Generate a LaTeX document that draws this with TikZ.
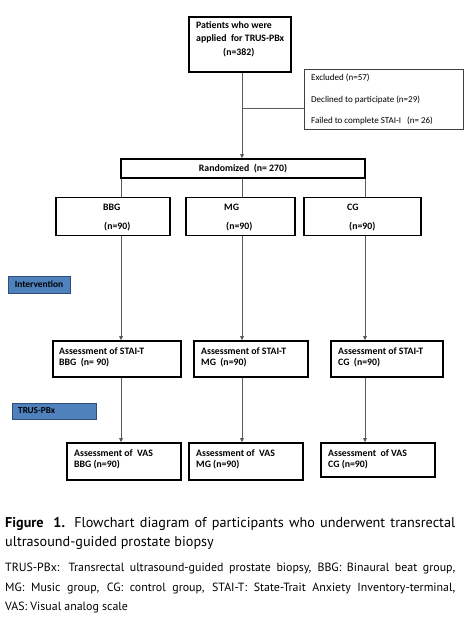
\documentclass[tikz,border=0pt]{standalone}
\usepackage{fontspec}
\setmainfont{Carlito}
\newfontfamily\capfont{PT Sans}
\usetikzlibrary{arrows.meta}
\definecolor{lblfill}{HTML}{4F81BD}
\definecolor{lbldraw}{HTML}{2F4F7A}
\definecolor{linegrey}{HTML}{5A5A5A}
\tikzset{
  box/.style={draw=black, line width=1.6pt, rectangle, inner sep=0pt},
  thinbox/.style={draw=black!75, line width=0.8pt, rectangle, inner sep=0pt},
  lbl/.style={draw=lbldraw, line width=0.8pt, fill=lblfill, rectangle, inner sep=0pt},
  txt/.style={anchor=west, inner sep=0pt, font=\fontsize{9.8}{11}\selectfont\bfseries},
  rtxt/.style={anchor=west, inner sep=0pt, font=\fontsize{9}{10}\selectfont},
  conn/.style={draw=linegrey, line width=0.9pt},
  arr/.style={conn, -{Triangle[length=4pt,width=3.5pt,fill=black]}},
}
\begin{document}
\begin{tikzpicture}[x=1pt,y=-1pt]
\useasboundingbox (0,0) rectangle (474,624);
% boxes
\node[box, minimum width=102pt, minimum height=55pt] (top) at (240,44.5) {};
\node[thinbox, minimum width=159pt, minimum height=60pt] (excl) at (383.5,99) {};
\node[box, minimum width=244pt, minimum height=19pt] (rand) at (243,168.5) {};
\node[box, minimum width=114pt, minimum height=38pt] (bbg) at (113,216.5) {};
\node[box, minimum width=109pt, minimum height=38pt] (mg) at (240.5,216.5) {};
\node[box, minimum width=117pt, minimum height=38pt] (cg) at (362.5,216.5) {};
\node[box, minimum width=128pt, minimum height=36pt] (s1) at (117,359) {};
\node[box, minimum width=114pt, minimum height=36pt] (s2) at (251,359) {};
\node[box, minimum width=112pt, minimum height=36pt] (s3) at (387,359) {};
\node[box, minimum width=114pt, minimum height=37pt] (v1) at (124,461.5) {};
\node[box, minimum width=114pt, minimum height=37pt] (v2) at (246,461.5) {};
\node[box, minimum width=114pt, minimum height=34pt] (v3) at (378,460) {};
% side labels
\node[lbl, minimum width=62pt, minimum height=17pt, font=\fontsize{9.4}{10}\selectfont\bfseries] (interv) at (39,284.5) {Intervention};
\node[lbl, minimum width=84pt, minimum height=16pt] (trus) at (54,411) {};
\node[txt, font=\fontsize{9.2}{10}\selectfont\bfseries] (trust) at (18,411) {TRUS-PBx};
% texts
\node[txt] (t1) at (196,25) {Patients who were};
\node[txt] (t2) at (196,39) {applied\ \ for TRUS-PBx};
\node[txt] (t3) at (223,53) {(n=382)};
\node[rtxt] (e1) at (311,78) {Excluded (n=57)};
\node[rtxt] (e2) at (311,100) {Declined to participate (n=29)};
\node[rtxt] (e3) at (311,121) {Failed to complete STAI-I\ \ \ (n= 26)};
\node[txt, anchor=center] (rt) at (243,168.5) {Randomized\ \ (n= 270)};
\node[txt] (g1a) at (103,207) {BBG};
\node[txt] (g1b) at (104,227) {(n=90)};
\node[txt] (g2a) at (224,207) {MG};
\node[txt] (g2b) at (226,227) {(n=90)};
\node[txt] (g3a) at (347,207) {CG};
\node[txt] (g3b) at (349,227) {(n=90)};
\node[txt] (s1a) at (59,351) {Assessment of STAI-T};
\node[txt] (s1b) at (59,363) {BBG\ \ (n= 90)};
\node[txt] (s2a) at (201,351) {Assessment of STAI-T};
\node[txt] (s2b) at (201,363) {MG\ \ (n=90)};
\node[txt] (s3a) at (338,351) {Assessment of STAI-T};
\node[txt] (s3b) at (338,363) {CG\ \ (n=90)};
\node[txt] (v1a) at (74,453) {Assessment of\ \ VAS};
\node[txt] (v1b) at (74,465) {BBG (n=90)};
\node[txt] (v2a) at (196,453) {Assessment of\ \ VAS};
\node[txt] (v2b) at (196,465) {MG (n=90)};
\node[txt] (v3a) at (328,453) {Assessment\ \ of VAS};
\node[txt] (v3b) at (328,465) {CG (n=90)};
% connector columns
\coordinate (l1) at (121,0);
\coordinate (l2) at (242,0);
\coordinate (l3) at (365,0);
\draw[arr] (top.south -| l2) -- (rand.north -| l2);
\coordinate (br) at (242,108);
\draw[conn] (br) -- (br -| excl.west);
\draw[conn] (rand.south -| l1) -- (bbg.north -| l1);
\draw[conn] (rand.south -| l2) -- (mg.north -| l2);
\draw[conn] (rand.south -| l3) -- (cg.north -| l3);
\draw[arr] (bbg.south -| l1) -- (s1.north -| l1);
\draw[arr] (mg.south -| l2) -- (s2.north -| l2);
\draw[arr] (cg.south -| l3) -- (s3.north -| l3);
\draw[arr] (s1.south -| l1) -- (v1.north -| l1);
\draw[arr] (s2.south -| l2) -- (v2.north -| l2);
\draw[arr] (s3.south -| l3) -- (v3.north -| l3);
% caption
\node[anchor=north west, inner sep=0pt, text width=450pt, align=justify,
  font=\capfont\fontsize{14.2}{19}\selectfont] (cap) at (5,517)
  {\hyphenpenalty=10000 \textbf{Figure\ \ 1.} Flowchart diagram of participants who underwent transrectal\linebreak ultrasound-guided prostate biopsy};
\node[anchor=north west, inner sep=0pt, text width=450pt, align=justify,
  font=\capfont\fontsize{11.9}{19.5}\selectfont] (leg) at (5,563)
  {\hyphenpenalty=10000 TRUS-PBx: Transrectal ultrasound-guided prostate biopsy, BBG: Binaural beat group,\linebreak MG: Music group, CG: control group, STAI-T: State-Trait Anxiety Inventory-terminal,\linebreak VAS: Visual analog scale};
\end{tikzpicture}
\end{document}
